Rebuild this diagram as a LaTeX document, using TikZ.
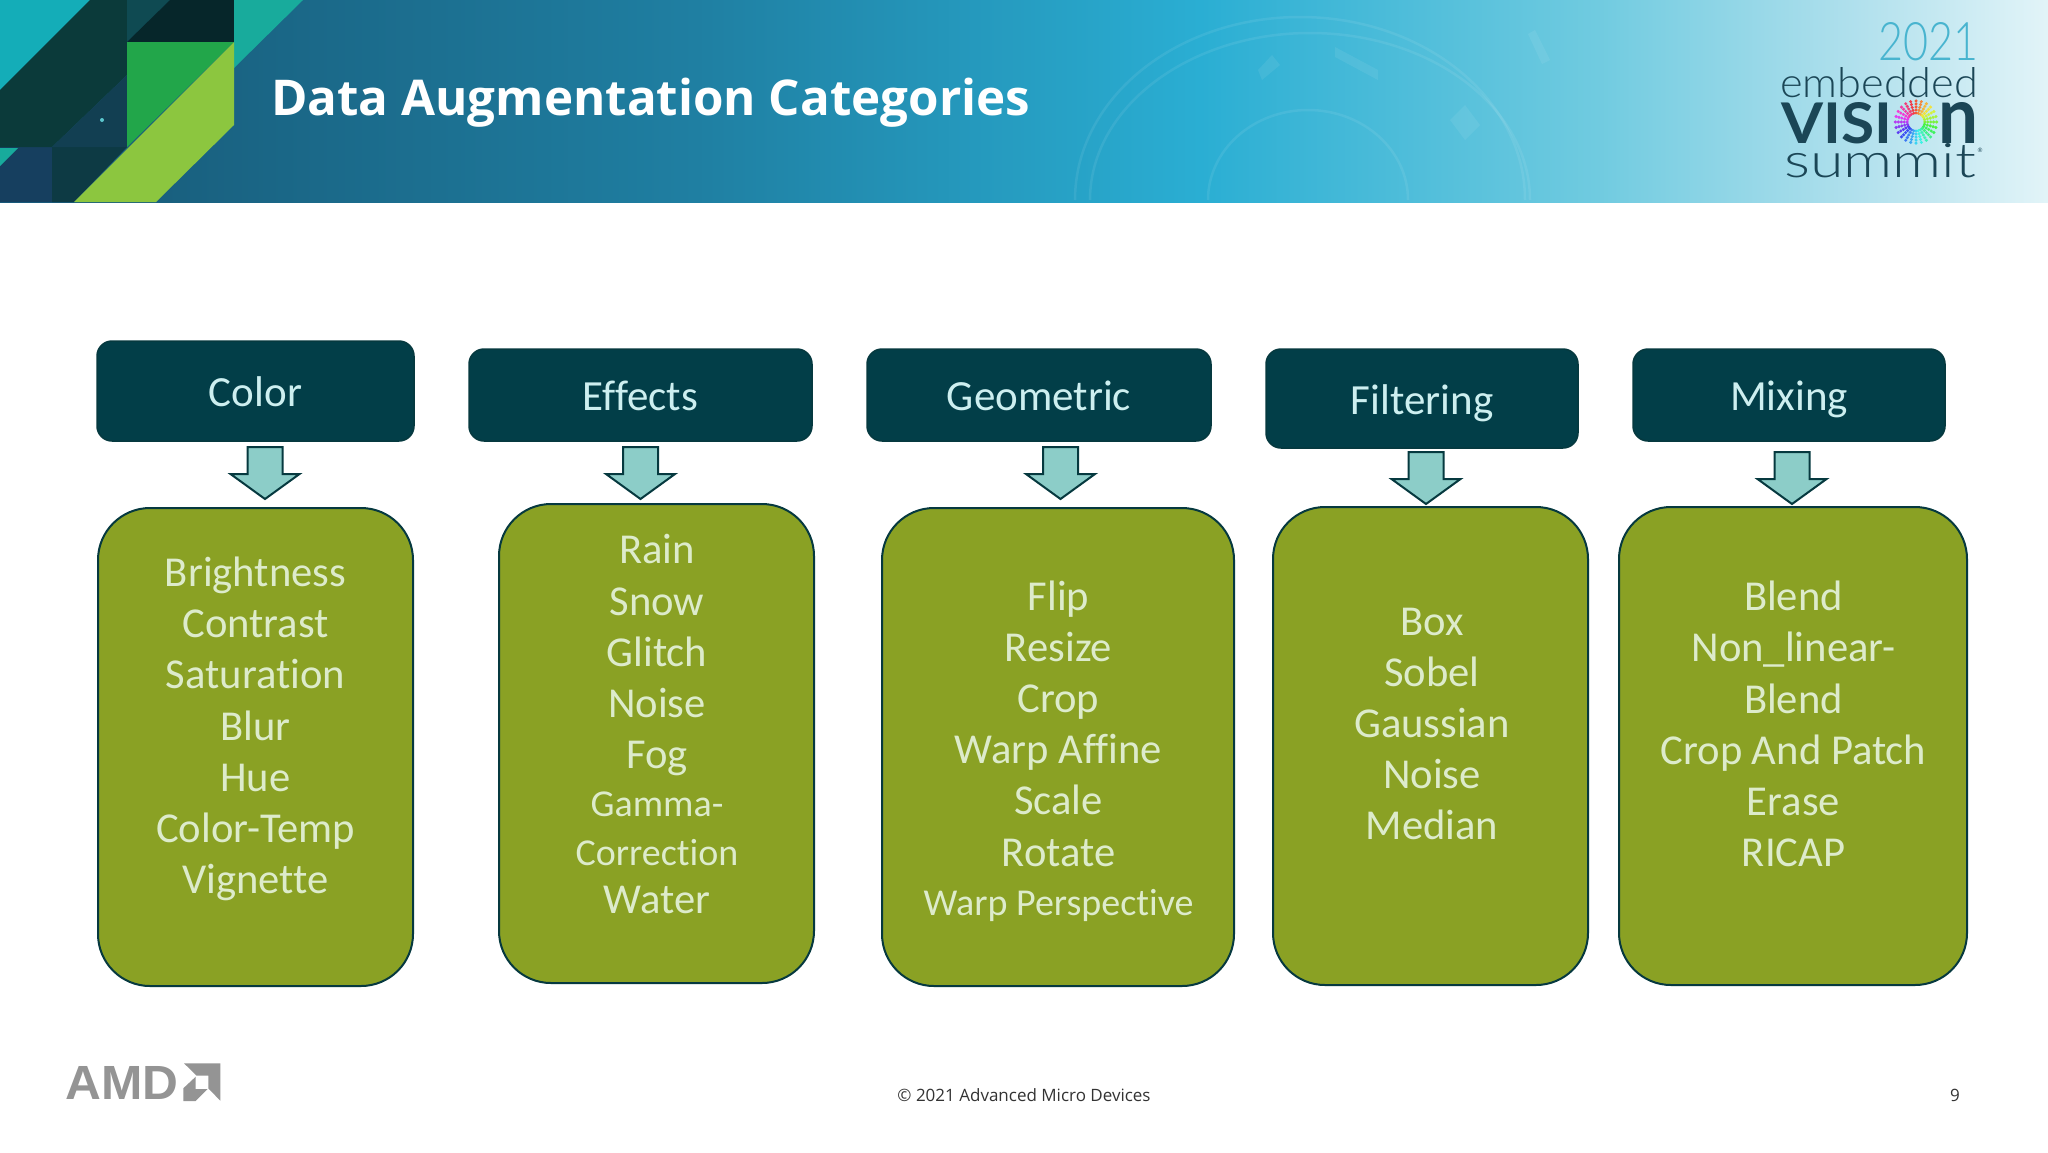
\documentclass[tikz,border=0pt]{standalone}
\usepackage{fontspec}
\setmainfont{Carlito}[Ligatures=NoCommon]
\newfontfamily\titlefont{Open Sans}
\newfontfamily\thinfont{Lato Light}
\newfontfamily\logofont{Lato}
\newfontfamily\amdfont{Liberation Sans}
\definecolor{hdrfill}{HTML}{023E48}
\definecolor{hdrtext}{HTML}{CDEFF0}
\definecolor{edgecol}{HTML}{06393F}
\definecolor{arrowfill}{HTML}{8CCDC8}
\definecolor{olive}{HTML}{8AA124}
\definecolor{olivetext}{HTML}{DDEBCB}
\definecolor{logodark}{HTML}{1B4656}
\definecolor{logoblue}{HTML}{48B4CF}
\definecolor{amdgray}{HTML}{949494}
\definecolor{HBa}{HTML}{17587A}
\definecolor{HBb}{HTML}{19607F}
\definecolor{HBc}{HTML}{1F7FA2}
\definecolor{HBd}{HTML}{2AAED3}
\definecolor{HBe}{HTML}{70CBE0}
\definecolor{HBf}{HTML}{ADDFEC}
\definecolor{HBg}{HTML}{E2F4F8}
\definecolor{mTeal}{HTML}{14ADB8}
\definecolor{mDark}{HTML}{0B3A3A}
\definecolor{mTop}{HTML}{0F4A52}
\definecolor{mBlack}{HTML}{06262A}
\definecolor{mSea}{HTML}{18AB9C}
\definecolor{mGreen}{HTML}{22A64A}
\definecolor{mLime}{HTML}{8CC63F}
\definecolor{mNavy}{HTML}{123F52}
\definecolor{mBlue}{HTML}{163F5F}
\definecolor{mDeep}{HTML}{0D3A44}
\pgfdeclarehorizontalshading{banner}{100bp}{
  color(0bp)=(HBa);
  color(25bp)=(HBa);
  color(29bp)=(HBb);
  color(42bp)=(HBc);
  color(54.3bp)=(HBd);
  color(64bp)=(HBe);
  color(70bp)=(HBf);
  color(75bp)=(HBg);
  color(100bp)=(HBg)}
\tikzset{
  hdrbox/.style={draw=edgecol,line width=1.5pt,fill=hdrfill,rounded corners=15pt,text=hdrtext,
    font=\fontsize{43}{51.2}\selectfont,inner sep=0pt,text height=31pt,text depth=0pt},
  catbox/.style={draw=edgecol,line width=2pt,fill=olive,rounded corners=52pt,inner sep=0pt},
  itemtext/.style={text=olivetext,align=center,inner sep=0pt,font=\fontsize{42.6}{51.2}\selectfont},
  downarrow/.style={draw=edgecol,line width=2pt,fill=arrowfill,line join=miter},
  foot/.style={text=black!80,font=\titlefont\fontsize{17}{20}\selectfont,inner sep=0pt},
  arcline/.style={white,opacity=.08,line width=2.5pt},
  arcblock/.style={white,opacity=.07},
  logoword/.style={inner sep=0pt,anchor=north west}
}
\newcommand{\smallline}[1]{{\fontsize{38}{44}\selectfont #1}}
\newcommand{\blockarrow}[3]{%
  \coordinate (#1) at (#2,#3);
  \draw[downarrow] (#1) ++(-17.5,0) -- ++(35,0) -- ++(0,27) -- ++(17,0) -- ++(-34.5,25) -- ++(-34.5,-25) -- ++(17,0) -- cycle;}
\begin{document}
\begin{tikzpicture}[x=1pt,y=-1pt]
\useasboundingbox (0,0) rectangle (2048,1152);
\fill[white] (0,0) rectangle (2048,1152);
% banner
\shade[shading=banner] (0,0) rectangle (2048,202);
\begin{scope}
\clip (0,0) rectangle (2048,202);
\draw[arcline] (1075,200) arc[start angle=180,end angle=360,x radius=225,y radius=183];
\draw[arcline] (1090,200) arc[start angle=180,end angle=360,x radius=220,y radius=167];
\draw[arcline] (1208,200) arc[start angle=180,end angle=360,x radius=100,y radius=90];
\fill[arcblock] (1335,47) -- (1378,70) -- (1378,80) -- (1335,57) -- cycle;
\fill[arcblock] (1272,55) -- (1280,65) -- (1262,80) -- (1258,70) -- cycle;
\fill[arcblock] (1535,30) -- (1550,60) -- (1542,64) -- (1528,34) -- cycle;
\fill[arcblock] (1465,105) -- (1480,125) -- (1465,140) -- (1450,120) -- cycle;
\end{scope}
% corner mark
\fill[mBlue] (0,147) rectangle (52,202);
\fill[mDeep] (52,147) -- (127,147) -- (74,202) -- (52,202) -- cycle;
\fill[mSea] (0,148) -- (18,148) -- (0,166) -- cycle;
\fill[mTeal] (0,0) -- (90,0) -- (0,90) -- cycle;
\fill[mDark] (90,0) -- (127,0) -- (127,75) -- (52,147) -- (0,147) -- (0,90) -- cycle;
\fill[mTop] (127,0) -- (170,0) -- (127,42) -- cycle;
\fill[mBlack] (170,0) -- (234,0) -- (234,42) -- (127,42) -- cycle;
\fill[mSea] (234,0) -- (303,0) -- (234,68) -- cycle;
\fill[mNavy] (127,75) -- (127,147) -- (52,147) -- cycle;
\fill[mTeal!70!white] (102,120) circle (2pt);
\fill[mGreen] (127,42) -- (234,42) -- (127,147) -- cycle;
\fill[mLime] (234,42) -- (234,125) -- (156,202) -- (74,202) -- cycle;
% title
\node[anchor=west,inner sep=0pt,text=white,font=\titlefont\bfseries\fontsize{49.3}{56}\selectfont] (title) at (271,103) {Data Augmentation Categories};
% event logo
\node[logoword,text=logoblue] (year) at (1878,22) {\resizebox{100pt}{38pt}{\thinfont 2021}};
\node[logoword,text=logodark] (embedded) at (1780,67) {\resizebox{198pt}{30pt}{\thinfont embedded}};
\node[logoword,text=logodark] (visi) at (1781,102) {\resizebox{111pt}{41pt}{\logofont\bfseries VISI}};
\node[logoword,text=logodark] (nletter) at (1938,102) {\resizebox{40pt}{41pt}{\logofont\bfseries n}};
\node[logoword,text=logodark] (summit) at (1784,143) {\resizebox{192pt}{34pt}{\thinfont summit}};
\node[inner sep=0pt,text=logodark,font=\logofont\fontsize{6}{7}\selectfont] (reg) at (1980,150) {®};
\foreach \r in {0.42,0.56,0.70,0.84,0.98}{
  \foreach \a in {0,15,...,345}{
    \pgfmathsetmacro{\hu}{mod(\a+100,360)/360}
    \definecolor{dotcol}{hsb}{\hu,0.75,0.95}
    \fill[dotcol] ({1916+21*\r*cos(\a)},{122+21.5*\r*sin(\a)}) circle (1.7pt);
  }
}
% headers
\node[hdrbox,minimum width=317pt,minimum height=100pt] (hColor) at (255.5,391) {Color};
\node[hdrbox,minimum width=343pt,minimum height=92pt] (hEffects) at (640.5,395) {Effects};
\node[hdrbox,minimum width=344pt,minimum height=92pt] (hGeom) at (1039,395) {Geometric};
\node[hdrbox,minimum width=312pt,minimum height=99pt] (hFilter) at (1422,398.5) {Filtering};
\node[hdrbox,minimum width=312pt,minimum height=92pt] (hMix) at (1789,395) {Mixing};
% category boxes
\node[catbox,minimum width=315pt,minimum height=478pt] (bColor) at (255.5,747) {};
\node[catbox,minimum width=315pt,minimum height=479pt] (bEffects) at (656.5,743.5) {};
\node[catbox,minimum width=352pt,minimum height=478pt] (bGeom) at (1058,747) {};
\node[catbox,minimum width=315pt,minimum height=478pt] (bFilter) at (1430.5,746) {};
\node[catbox,minimum width=348pt,minimum height=478pt] (bMix) at (1793,746) {};
% item lists
\node[itemtext] (tColor) at (255.5,729) {Brightness\\Contrast\\Saturation\\Blur\\Hue\\Color-Temp\\Vignette};
\node[itemtext] (tEffects) at (657,724) {Rain\\Snow\\Glitch\\Noise\\Fog\\[-3pt]\smallline{Gamma-}\\[-3pt]\smallline{Correction}\\[-3pt]Water};
\node[itemtext] (tGeom) at (1058.5,751) {Flip\\Resize\\Crop\\Warp Affine\\Scale\\Rotate\\[-2pt]\smallline{Warp Perspective}};
\node[itemtext] (tFilter) at (1432,724) {Box\\Sobel\\Gaussian\\Noise\\Median};
\node[itemtext] (tMix) at (1793.5,724) {Blend\\Non\_linear-\\Blend\\Crop And Patch\\Erase\\RICAP};
% block arrows
\blockarrow{aColor}{265}{447}
\blockarrow{aEffects}{640.5}{447}
\blockarrow{aGeom}{1060.5}{447}
\blockarrow{aFilter}{1426}{452}
\blockarrow{aMix}{1792}{452}
% footer
\node[inner sep=0pt,anchor=north west,text=amdgray] (amd) at (65,1066) {\resizebox{113pt}{33pt}{\amdfont\bfseries AMD}};
\fill[amdgray] (184,1063.3) -- (220.3,1063.3) -- (220.3,1100.7) -- (208.3,1088.3) -- (208.3,1075.7) -- (196.7,1075.7) -- cycle;
\fill[amdgray] (195.7,1076.7) -- (183.3,1088.3) -- (183.3,1101) -- (195.7,1101) -- (207.7,1089) -- (195.7,1089) -- cycle;
\node[foot] (copy) at (1024,1095) {© 2021 Advanced Micro Devices};
\node[foot] (page) at (1955,1095) {9};
\end{tikzpicture}
\end{document}
